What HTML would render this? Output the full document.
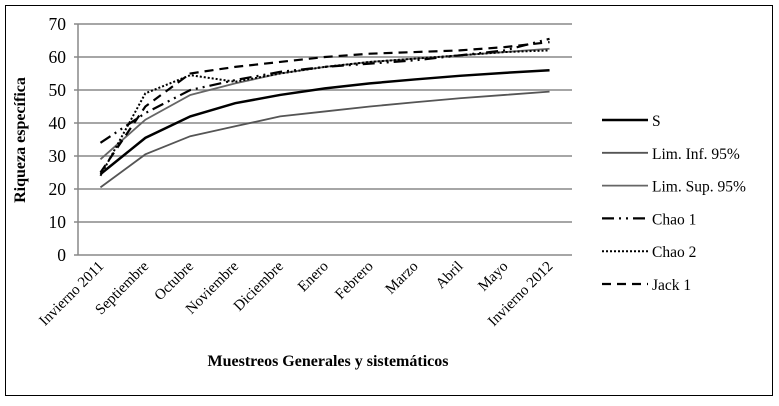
<!DOCTYPE html>
<html><head><meta charset="utf-8"><style>
body{margin:0;background:#fff;width:779px;height:401px;overflow:hidden}
svg text{font-family:"Liberation Serif",serif;fill:#000}
</style></head><body>
<svg width="779" height="401" id="c">
<rect x="5.5" y="5.5" width="767" height="390" fill="none" stroke="#000" stroke-width="1"/>
<g id="grid"></g><g id="series"></g><g id="labels"></g><g id="legend"></g>
<text x="25" y="140" transform="rotate(-90 25 140)" text-anchor="middle" font-size="16" font-weight="bold">Riqueza específica</text>
<text x="328" y="366" text-anchor="middle" font-size="16" font-weight="bold">Muestreos Generales y sistemáticos</text>
</svg>
<script>
const categories=["Invierno 2011","Septiembre","Octubre","Noviembre","Diciembre","Enero","Febrero","Marzo","Abril","Mayo","Invierno 2012"];
const yTicks=[0,10,20,30,40,50,60,70];
const sVals=[24.5,35.5,42,46,48.5,50.5,52,53.2,54.3,55.2,56];
const limInf=[20.5,30.5,36,39,42,43.5,45,46.3,47.5,48.5,49.5];
const limSup=[29,41,48.5,52,55,57,58.5,59.5,60.5,61.5,62.5];
const chao1=[34,43,50,53,55.5,57,58,59,60.5,62,65.5];
const chao2=[24,49,54.5,52.5,55,57,58.5,59.5,60.5,61.5,62];
const jack1=[25,45,55,57,58.5,60,61,61.5,62,63,64.5];
const NS="http://www.w3.org/2000/svg";
const x0=78,x1=572,yB=255,yT=24;
const xs=i=>x0+(x1-x0)/categories.length*(i+0.5);
const ys=v=>yB-(yB-yT)*v/70;
function mk(t,a,p){const e=document.createElementNS(NS,t);for(const k in a)e.setAttribute(k,a[k]);p.appendChild(e);return e;}
const grid=document.getElementById('grid'),lab=document.getElementById('labels');
yTicks.forEach(v=>{
 const l=mk('line',{x1:x0-4,x2:x1,y1:ys(v),y2:ys(v),stroke:'#888','stroke-width':1.5},grid);
 
 
 const t=mk('text',{x:x0-12,y:ys(v)+6,'text-anchor':'end','font-size':17.5},lab);t.textContent=v;
 
 
});
const ax=mk('line',{x1:x0,x2:x0,y1:yT,y2:yB,stroke:'#888','stroke-width':1.5},grid);


categories.forEach((c,i)=>{
 const x=xs(i)+4,y=yB+12;
 const t=mk('text',{x:x,y:y,'text-anchor':'end','font-size':15,transform:`rotate(-45 ${x} ${y})`},lab);t.textContent=c;
 
 
});
const defs=[
 ["S",sVals,"#000",2.5,""],
 ["Lim. Inf. 95%",limInf,"#555",1.8,""],
 ["Lim. Sup. 95%",limSup,"#666",1.8,""],
 ["Chao 1",chao1,"#000",2.2,"12 5 2 5 2 5"],
 ["Chao 2",chao2,"#000",2,"2 2"],
 ["Jack 1",jack1,"#000",2.2,"9 6"]];
const sg=document.getElementById('series'),lg=document.getElementById('legend');
defs.forEach((d,k)=>{
 const p=mk('polyline',{points:d[1].map((v,i)=>xs(i)+','+ys(v)).join(' '),fill:'none',stroke:d[2],'stroke-width':d[3],'stroke-dasharray':d[4]},sg);
 
 
 const y=120+k*32.8;
 const l=mk('line',{x1:602,x2:648,y1:y,y2:y,stroke:d[2],'stroke-width':d[3],'stroke-dasharray':d[4]},lg);
 
 
 const t=mk('text',{x:652,y:y+6,'font-size':15.5},lg);t.textContent=d[0];
 
 
});
</script>
</body></html>
